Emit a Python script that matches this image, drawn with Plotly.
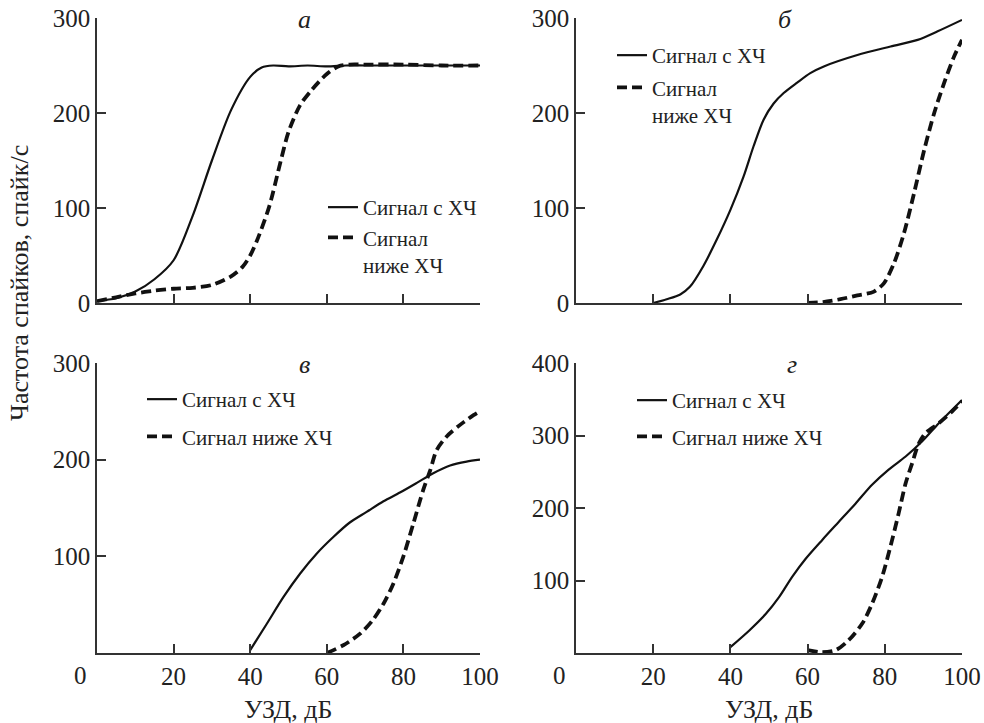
import plotly.graph_objects as go

# ---- data ----
a_solid_x = [0, 5, 10, 15, 20, 25, 30, 35, 40, 43, 46, 50, 55, 60, 65, 70, 80, 90, 100]
a_solid_y = [2, 5, 12, 25, 45, 92, 150, 203, 238, 248, 250, 249, 250, 249, 250, 250, 250, 250, 250]
a_dash_x = [0, 5, 10, 15, 20, 25, 30, 35, 38, 40, 42, 45, 48, 50, 53, 56, 60, 63, 66, 70, 80, 90, 100]
a_dash_y = [2, 6, 10, 13, 15, 16, 19, 28, 38, 50, 68, 102, 150, 180, 208, 224, 241, 249, 251, 251, 251, 250, 250]

b_solid_x = [20, 23.5, 27, 29.5, 33, 36.5, 40, 43.4, 46, 48.6, 51.2, 53.8, 57.3, 60.7, 64.2, 72.9, 81.5, 88.5, 93.7, 100]
b_solid_y = [0, 4, 9, 17, 39, 67, 98, 133, 165, 193, 210, 221, 232, 242, 249, 261, 270, 277, 286, 298]
b_dash_x = [60, 64, 68.5, 72.9, 77.2, 79.8, 82.4, 85, 87.6, 90.2, 92.8, 95.4, 98, 100]
b_dash_y = [0, 1, 4, 8, 12, 21, 42, 74, 116, 161, 200, 232, 260, 277]

c_solid_x = [40, 44.3, 48.7, 53, 57.4, 61.7, 66, 70.4, 74.8, 79.1, 83.5, 87.8, 92.2, 96.5, 100]
c_solid_y = [3, 30, 58, 82, 103, 120, 135, 146, 157, 166, 176, 186, 194, 198, 200]
c_dash_x = [60, 64.3, 68.7, 72, 74.8, 77.4, 80, 82.6, 85.2, 87, 88.7, 91.3, 94.8, 98.3, 100]
c_dash_y = [0, 8, 20, 34, 51, 72, 100, 134, 169, 189, 210, 224, 236, 246, 250]

d_solid_x = [40, 44.9, 49.2, 52.6, 56, 59.5, 63.8, 68.1, 72.4, 76.7, 81, 85.4, 89.7, 94, 100]
d_solid_y = [8, 31, 54, 77, 105, 130, 156, 181, 206, 232, 253, 271, 292, 317, 349]
d_dash_x = [60, 63.8, 67.3, 70.7, 74.2, 76.7, 79.3, 81.9, 83.6, 85.4, 87.1, 88.8, 90.5, 94, 97.4, 100]
d_dash_y = [4, 1, 4, 18, 41, 68, 105, 156, 193, 234, 262, 289, 303, 317, 333, 347]

name_solid = "Сигнал с ХЧ"
name_dash_2line = "Сигнал<br>ниже ХЧ"
name_dash_1line = "Сигнал ниже ХЧ"
panel_letters = ["а", "б", "в", "г"]
x_ticks_bottom = [20, 40, 60, 80, 100]
y_ticks_300 = [0, 100, 200, 300]
y_ticks_300_bottom = [100, 200, 300]
y_ticks_400_bottom = [100, 200, 300, 400]
x_title = "УЗД, дБ"
y_title = "Частота спайков, спайк/с"

W, H = 984, 723
FONT = "Times New Roman"
INK = "#222222"
AX = "#333333"

def px_x(p):
    return p / W

def px_y(p):
    return 1 - p / H

panels = [
    (a_solid_x, a_solid_y, a_dash_x, a_dash_y, name_dash_2line, "x", "y", "legend"),
    (b_solid_x, b_solid_y, b_dash_x, b_dash_y, name_dash_2line, "x2", "y2", "legend2"),
    (c_solid_x, c_solid_y, c_dash_x, c_dash_y, name_dash_1line, "x3", "y3", "legend3"),
    (d_solid_x, d_solid_y, d_dash_x, d_dash_y, name_dash_1line, "x4", "y4", "legend4"),
]

fig = go.Figure()
for i, (sx, sy, dx, dy, dname, xa, ya, lg) in enumerate(panels):
    fig.add_trace(go.Scatter(x=sx, y=sy, mode="lines", name=name_solid,
                             line=dict(color="#111111", width=2.2, shape="spline", smoothing=0.8),
                             xaxis=xa, yaxis=ya, legend=lg, legendgroup=f"s{i}"))
    fig.add_trace(go.Scatter(x=dx, y=dy, mode="lines", name=dname,
                             line=dict(color="#111111", width=3.8, dash="10px,5px", shape="spline", smoothing=0.8),
                             xaxis=xa, yaxis=ya, legend=lg, legendgroup=f"d{i}"))

xdom_l = [px_x(97), px_x(480)]
xdom_r = [px_x(576), px_x(962)]
ydom_t = [px_y(303), px_y(18)]
ydom_b = [px_y(653), px_y(363)]

TICKFONT = dict(family=FONT, size=25, color=INK)

def xaxis(dom, anchor, show_labels):
    d = dict(domain=dom, anchor=anchor, range=[0, 100], showgrid=False, zeroline=False,
             showline=True, linecolor=AX, linewidth=1.5, ticks="inside", ticklen=9,
             tickwidth=1.5, tickcolor=AX, tickfont=TICKFONT, automargin=False)
    if show_labels:
        d.update(tickmode="array", tickvals=x_ticks_bottom, showticklabels=True)
    else:
        d.update(tickmode="array", tickvals=[0, 20, 40, 60, 80, 100], showticklabels=False)
    return d

def yaxis(dom, anchor, rng, vals):
    return dict(domain=dom, anchor=anchor, range=rng, showgrid=False, zeroline=False,
                showline=True, linecolor=AX, linewidth=1.5, ticks="inside", ticklen=9,
                tickwidth=1.5, tickcolor=AX, tickmode="array", tickvals=vals,
                tickfont=TICKFONT, automargin=False)

fig.update_layout(
    width=W, height=H, margin=dict(l=0, r=0, t=0, b=0, autoexpand=False),
    paper_bgcolor="white", plot_bgcolor="white",
    xaxis=xaxis(xdom_l, "y", False),
    yaxis=yaxis(ydom_t, "x", [0, 300], y_ticks_300),
    xaxis2=xaxis(xdom_r, "y2", False),
    yaxis2=yaxis(ydom_t, "x2", [0, 300], y_ticks_300),
    xaxis3=xaxis(xdom_l, "y3", True),
    yaxis3=yaxis(ydom_b, "x3", [0, 300], y_ticks_300_bottom),
    xaxis4=xaxis(xdom_r, "y4", True),
    yaxis4=yaxis(ydom_b, "x4", [0, 400], y_ticks_400_bottom),
)

LEGFONT = dict(family=FONT, size=21, color=INK)
leg_common = dict(xanchor="left", yanchor="top", bgcolor="rgba(0,0,0,0)", font=LEGFONT, valign="top")
fig.update_layout(
    legend=dict(x=px_x(323), y=px_y(187), tracegroupgap=0, **leg_common),
    legend2=dict(x=px_x(612), y=px_y(35), tracegroupgap=2, **leg_common),
    legend3=dict(x=px_x(142), y=px_y(379), tracegroupgap=7, **leg_common),
    legend4=dict(x=px_x(632), y=px_y(380), tracegroupgap=6, **leg_common),
)

letter_pos = [(304, 19), (785, 19), (304, 364), (792, 364)]
for t, (lx, ly) in zip(panel_letters, letter_pos):
    fig.add_annotation(text=f"<i>{t}</i>", x=px_x(lx), y=px_y(ly), xref="paper", yref="paper",
                       showarrow=False, xanchor="center", yanchor="middle",
                       font=dict(family=FONT, size=26, color=INK))

for xa, ya in [("x3", "y3"), ("x4", "y4")]:
    fig.add_annotation(text="0", x=0, y=0, xref=xa, yref=ya, showarrow=False,
                       xanchor="center", yanchor="middle", xshift=-17, yshift=-22,
                       font=dict(family=FONT, size=25, color=INK))

for cx in [288, 769]:
    fig.add_annotation(text=x_title, x=px_x(cx), y=px_y(709), xref="paper", yref="paper",
                       showarrow=False, xanchor="center", yanchor="middle",
                       font=dict(family=FONT, size=26, color=INK))

fig.add_annotation(text=y_title, x=px_x(20), y=px_y(283), xref="paper", yref="paper",
                   showarrow=False, textangle=-90, xanchor="center", yanchor="middle",
                   font=dict(family=FONT, size=26, color=INK))

fig.write_html("out.html")
